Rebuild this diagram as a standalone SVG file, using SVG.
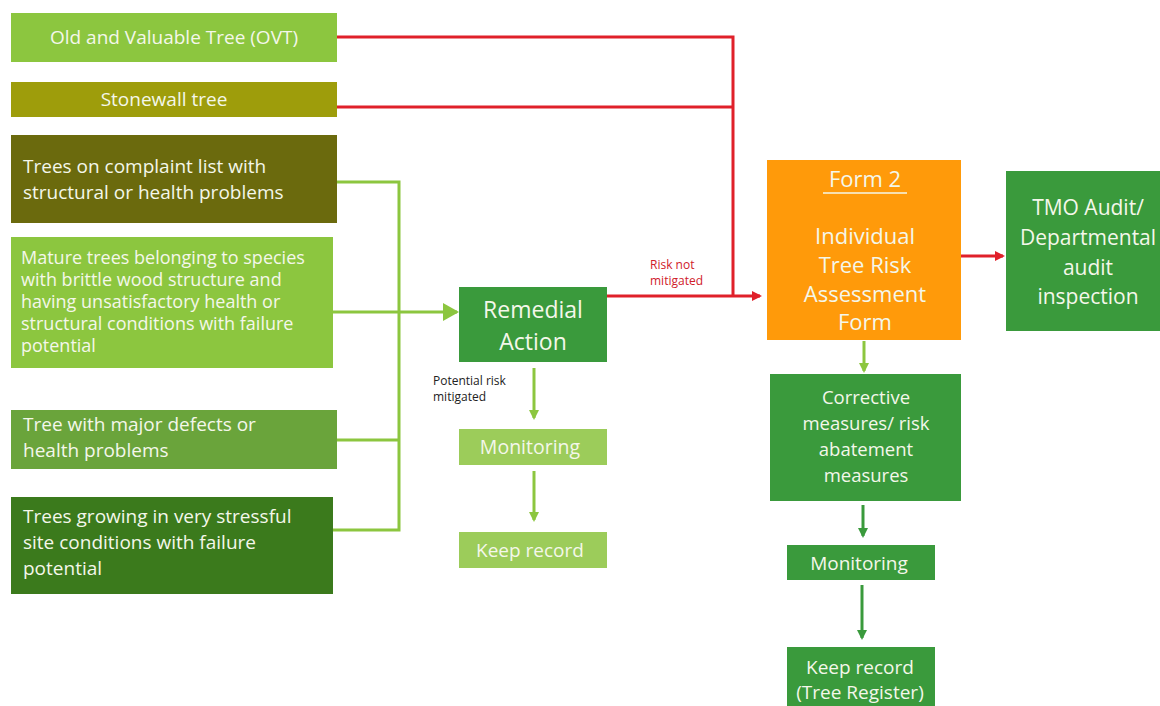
<svg xmlns="http://www.w3.org/2000/svg" width="1160" height="706" viewBox="0 0 1160 706">
<style>
text{font-family:"Open Sans","Liberation Sans",sans-serif;fill:#f4f7ea}
.c{text-anchor:middle}
.lbl{fill:#222;font-size:12px}
.red{fill:#d0202a;font-size:12px}
.g{stroke:#8cc63f;stroke-width:3;fill:none}
.dg{stroke:#3a9a3c;stroke-width:3;fill:none}
.r{stroke:#e0202a;stroke-width:3;fill:none}
.s{font-size:19px}
.t{font-size:18px}
.m{font-size:22px}
</style>
<defs>
<marker id="ag" markerWidth="10" markerHeight="10" refX="8" refY="5" orient="auto" markerUnits="userSpaceOnUse"><path d="M0,0 L10,5 L0,10 Z" fill="#8cc63f"/></marker>
<marker id="agb" markerWidth="16" markerHeight="18" refX="14" refY="9" orient="auto" markerUnits="userSpaceOnUse"><path d="M0,0 L16,9 L0,18 Z" fill="#8cc63f"/></marker>
<marker id="adg" markerWidth="10" markerHeight="10" refX="8" refY="5" orient="auto" markerUnits="userSpaceOnUse"><path d="M0,0 L10,5 L0,10 Z" fill="#3a9a3c"/></marker>
<marker id="ar" markerWidth="10" markerHeight="10" refX="8" refY="5" orient="auto" markerUnits="userSpaceOnUse"><path d="M0,0 L10,5 L0,10 Z" fill="#e0202a"/></marker>
</defs>
<rect width="1160" height="706" fill="#ffffff"/>
<g id="connectors">
<path class="r" d="M337,37 H733 V296"/>
<path class="r" d="M337,107 H733"/>
<path class="r" d="M607,296 H760" marker-end="url(#ar)"/>
<path class="r" d="M961,256 H1003" marker-end="url(#ar)"/>
<path class="g" d="M337,182 H399 V530 H333"/>
<path class="g" d="M337,440 H399"/>
<path class="g" d="M333,312 H457" marker-end="url(#agb)"/>
<path class="g" d="M534,368 V418" marker-end="url(#ag)"/>
<path class="g" d="M534,471 V520" marker-end="url(#ag)"/>
<path class="g" d="M864,341 V371" marker-end="url(#ag)"/>
<path class="dg" d="M863,505 V536" marker-end="url(#adg)"/>
<path class="dg" d="M862,585 V638" marker-end="url(#adg)"/>
<text class="red" x="650" y="269">Risk not</text>
<text class="red" x="650" y="285">mitigated</text>
<text class="lbl" x="433" y="385">Potential risk</text>
<text class="lbl" x="433" y="401">mitigated</text>
</g>
<g id="ovt"><rect x="11" y="13" width="326" height="49" fill="#8cc63f"/><text class="c s" x="174" y="44">Old and Valuable Tree (OVT)</text></g>
<g id="stonewall"><rect x="11" y="82" width="326" height="35" fill="#9e9d0b"/><text class="c s" x="164" y="106">Stonewall tree</text></g>
<g id="complaint"><rect x="11" y="135" width="326" height="88" fill="#6b6a0d"/><text class="s" x="23" y="173">Trees on complaint list with</text><text class="s" x="23" y="199">structural or health problems</text></g>
<g id="mature"><rect x="11" y="237" width="322" height="131" fill="#8cc63f"/>
<text class="t" x="21" y="264">Mature trees belonging to species</text>
<text class="t" x="21" y="286">with brittle wood structure and</text>
<text class="t" x="21" y="308">having unsatisfactory health or</text>
<text class="t" x="21" y="330">structural conditions with failure</text>
<text class="t" x="21" y="352">potential</text></g>
<g id="defects"><rect x="11" y="410" width="326" height="59" fill="#6aa43b"/><text class="s" x="23" y="431">Tree with major defects or</text><text class="s" x="23" y="457">health problems</text></g>
<g id="stressful"><rect x="11" y="497" width="322" height="97" fill="#3b7a1c"/><text class="s" x="23" y="523">Trees growing in very stressful</text><text class="s" x="23" y="549">site conditions with failure</text><text class="s" x="23" y="575">potential</text></g>
<g id="remedial"><rect x="459" y="287" width="148" height="75" fill="#3a9a3c"/><text class="c" x="533" y="318" font-size="23">Remedial</text><text class="c" x="533" y="350" font-size="23">Action</text></g>
<g id="monitoring1"><rect x="459" y="429" width="148" height="36" fill="#9ccc5a"/><text class="c" x="530" y="454" font-size="19.5">Monitoring</text></g>
<g id="keeprecord1"><rect x="459" y="532" width="148" height="36" fill="#9ccc5a"/><text class="c" x="530" y="557" font-size="19">Keep record</text></g>
<g id="form2"><rect x="767" y="160" width="194" height="180" fill="#ff9a0a"/>
<text class="c m" x="865" y="187">Form 2</text>
<line x1="823" y1="193" x2="907" y2="193" stroke="#f4f7ea" stroke-width="1.5"/>
<text class="c m" x="865" y="244">Individual</text>
<text class="c m" x="865" y="273">Tree Risk</text>
<text class="c m" x="865" y="302">Assessment</text>
<text class="c m" x="865" y="330">Form</text></g>
<g id="tmo"><rect x="1006" y="171" width="154" height="160" fill="#3a9a3c"/>
<text class="c" x="1088" y="215" font-size="21">TMO Audit/</text>
<text class="c" x="1088" y="245" font-size="21">Departmental</text>
<text class="c" x="1088" y="275" font-size="21">audit</text>
<text class="c" x="1088" y="304" font-size="21">inspection</text></g>
<g id="corrective"><rect x="770" y="374" width="191" height="127" fill="#3a9a3c"/>
<text class="c" x="866" y="404" font-size="18.5">Corrective</text>
<text class="c" x="866" y="430" font-size="18.5">measures/ risk</text>
<text class="c" x="866" y="456" font-size="18.5">abatement</text>
<text class="c" x="866" y="482" font-size="18.5">measures</text></g>
<g id="monitoring2"><rect x="787" y="545" width="148" height="35" fill="#3a9a3c"/><text class="c" x="859" y="570" font-size="19">Monitoring</text></g>
<g id="keeprecord2"><rect x="787" y="647" width="148" height="59" fill="#3a9a3c"/><text class="c" x="860" y="674" font-size="19">Keep record</text><text class="c" x="860" y="699" font-size="19">(Tree Register)</text></g>
</svg>
